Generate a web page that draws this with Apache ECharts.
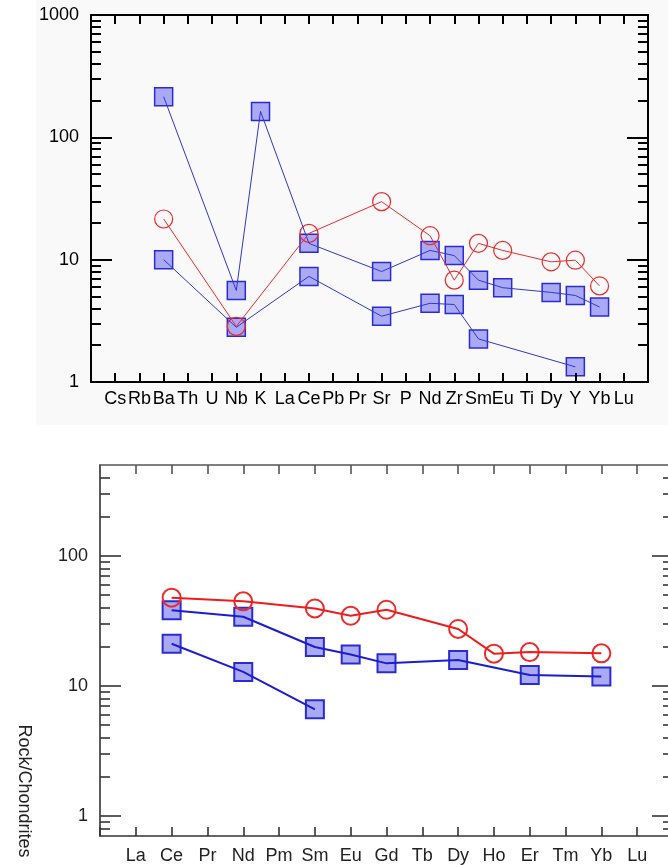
<!DOCTYPE html>
<html>
<head>
<meta charset="utf-8">
<script src="https://cdn.jsdelivr.net/npm/echarts@6/dist/echarts.min.js"></script>
<style>
  html, body { margin: 0; padding: 0; background: #ffffff; overflow: hidden; }
  #chart { width: 690px; height: 865px; }
</style>
</head>
<body>
<div id="chart"></div>
<script>
// Spider diagram (top) element order
var spiderElements = ['Cs','Rb','Ba','Th','U','Nb','K','La','Ce','Pb','Pr','Sr','P','Nd','Zr','Sm','Eu','Ti','Dy','Y','Yb','Lu'];
// Values by element (null = not analysed)
var spiderBlueHigh = [null,null,215,null,null,5.6,163,null,13.6,null,null,8.0,null,11.9,10.8,6.8,5.9,null,5.4,5.1,4.1,null];
var spiderBlueLow  = [null,null,10,null,null,2.8,null,null,7.3,null,null,3.45,null,4.4,4.3,2.25,null,null,null,1.33,null,null];
var spiderRed      = [null,null,21.5,null,null,2.85,null,null,16.4,null,null,29.8,null,15.7,6.8,13.6,11.9,null,9.6,9.9,6.1,null];
var spiderMajorTicks = [1, 10, 100, 1000];
var spiderMinorTicks = [2,3,4,5,6,7,8,9,20,30,40,50,60,70,80,90,200,300,400,500,600,700,800,900];

// REE diagram (bottom), chondrite-normalised
var reeElements = ['La','Ce','Pr','Nd','Pm','Sm','Eu','Gd','Tb','Dy','Ho','Er','Tm','Yb','Lu'];
var reeRed      = [null,47.7,null,44.7,null,39.4,34.6,38.5,null,27.4,17.7,18.2,null,17.8,null];
var reeBlueHigh = [null,38.2,null,34.0,null,19.9,17.4,14.9,null,15.8,null,12.1,null,11.8,null];
var reeBlueLow  = [null,21.1,null,12.8,null,6.6,null,null,null,null,null,null,null,null,null];
var reeMajorTicks = [1, 10, 100];
var reeMinorTicks = [0.8,0.9,2,3,4,5,6,7,8,9,20,30,40,50,60,70,80,90,200,300,400];
var reeAxisName = 'Rock/Chondrites';

var chart = echarts.init(document.getElementById('chart'), null, { renderer: 'canvas' });

function pad(arr) { return [''].concat(arr).concat(['']); }
function padData(arr) { return [null].concat(arr).concat([null]); }

var FONT = 'Liberation Sans, Arial, sans-serif';

function xAxes(gridIndex, names, pos, color, lw, fontSize, labelColor, margin) {
  return {
    type: 'category', gridIndex: gridIndex, position: pos,
    data: pad(names), boundaryGap: false,
    axisLine: { show: true, lineStyle: { color: color, width: lw } },
    axisTick: { show: true, inside: true, length: 9, interval: 0, lineStyle: { color: color, width: lw } },
    axisLabel: { show: pos === 'bottom', interval: 0, fontFamily: FONT, fontSize: fontSize, color: labelColor, margin: margin },
    splitLine: { show: false }, z: 5
  };
}

function yAxesFor(gridIndex, min, max, major, minor, color, lw, fontSize, labelColor) {
  var base = { type: 'log', logBase: 10, gridIndex: gridIndex, min: min, max: max, splitLine: { show: false }, z: 5 };
  var list = [];
  ['left', 'right'].forEach(function (pos) {
    list.push(Object.assign({}, base, {
      position: pos,
      axisLine: { show: true, onZero: false, lineStyle: { color: color, width: lw } },
      axisTick: { show: true, inside: true, length: 21, customValues: major, lineStyle: { color: color, width: lw } },
      axisLabel: { show: pos === 'left', customValues: major, fontFamily: FONT, fontSize: fontSize, color: labelColor, margin: 12,
                   formatter: function (v) { return String(v); } }
    }));
    list.push(Object.assign({}, base, {
      position: pos,
      axisLine: { show: false },
      axisTick: { show: true, inside: true, length: 10, customValues: minor, lineStyle: { color: color, width: lw } },
      axisLabel: { show: false }
    }));
  });
  return list;
}

var BLUE_FILL = '#aaaaf4';
var BLUE_EDGE = '#2b2bd6';
var RED = '#ee2a2a';

function squares(xi, yi, data, size, bw) {
  return { type: 'scatter', xAxisIndex: xi, yAxisIndex: yi, data: padData(data), symbol: 'rect', symbolSize: size,
           itemStyle: { color: BLUE_FILL, borderColor: BLUE_EDGE, borderWidth: bw, opacity: 1 }, z: 2, silent: true };
}
function circles(xi, yi, data, size, bw) {
  return { type: 'scatter', xAxisIndex: xi, yAxisIndex: yi, data: padData(data), symbol: 'circle', symbolSize: size,
           itemStyle: { color: 'rgba(0,0,0,0)', borderColor: RED, borderWidth: bw, opacity: 1 }, z: 3, silent: true };
}
function trace(xi, yi, data, color, w) {
  return { type: 'line', xAxisIndex: xi, yAxisIndex: yi, data: padData(data), connectNulls: true, symbol: 'none',
           lineStyle: { color: color, width: w }, z: 4, silent: true, animation: false };
}

var option = {
  animation: false,
  backgroundColor: '#ffffff',
  graphic: [
    { type: 'rect', left: 36, top: 0, shape: { width: 654, height: 425 }, style: { fill: '#f9f9f9' }, z: -10, silent: true },
    { type: 'text', x: 24, y: 791, rotation: -Math.PI / 2,
      style: { text: reeAxisName, font: '18px ' + FONT, fill: '#222', align: 'center', verticalAlign: 'middle' }, z: 10 }
  ],
  grid: [
    { left: 91, top: 15, width: 557, height: 367 },
    { left: 100, top: 465, width: 573, height: 374 }
  ],
  xAxis: [
    xAxes(0, spiderElements, 'bottom', '#000', 2, 18, '#000', 8),
    xAxes(0, spiderElements, 'top', '#000', 2, 18, '#000', 8),
    xAxes(1, reeElements, 'bottom', '#333', 1.6, 18, '#222', 11),
    xAxes(1, reeElements, 'top', '#555', 1.6, 18, '#222', 11)
  ],
  yAxis: [].concat(
    yAxesFor(0, 1, 1000, spiderMajorTicks, spiderMinorTicks, '#000', 2, 18, '#000'),
    yAxesFor(1, 0.7, 500, reeMajorTicks, reeMinorTicks, '#333', 1.6, 18, '#222')
  ),
  series: [
    // spider diagram
    squares(0, 0, spiderBlueHigh, 18, 1.5),
    squares(0, 0, spiderBlueLow, 18, 1.5),
    circles(0, 0, spiderRed, 18, 1.2),
    trace(0, 0, spiderBlueHigh, '#3434d0', 1),
    trace(0, 0, spiderBlueLow, '#3434d0', 1),
    trace(0, 0, spiderRed, RED, 1),
    // REE diagram
    squares(2, 4, reeBlueHigh, 18, 2),
    squares(2, 4, reeBlueLow, 18, 2),
    circles(2, 4, reeRed, 18, 2),
    trace(2, 4, reeBlueHigh, '#1c1cd0', 2),
    trace(2, 4, reeBlueLow, '#1c1cd0', 2),
    trace(2, 4, reeRed, '#f01c1c', 2)
  ]
};

chart.setOption(option);
</script>
</body>
</html>
